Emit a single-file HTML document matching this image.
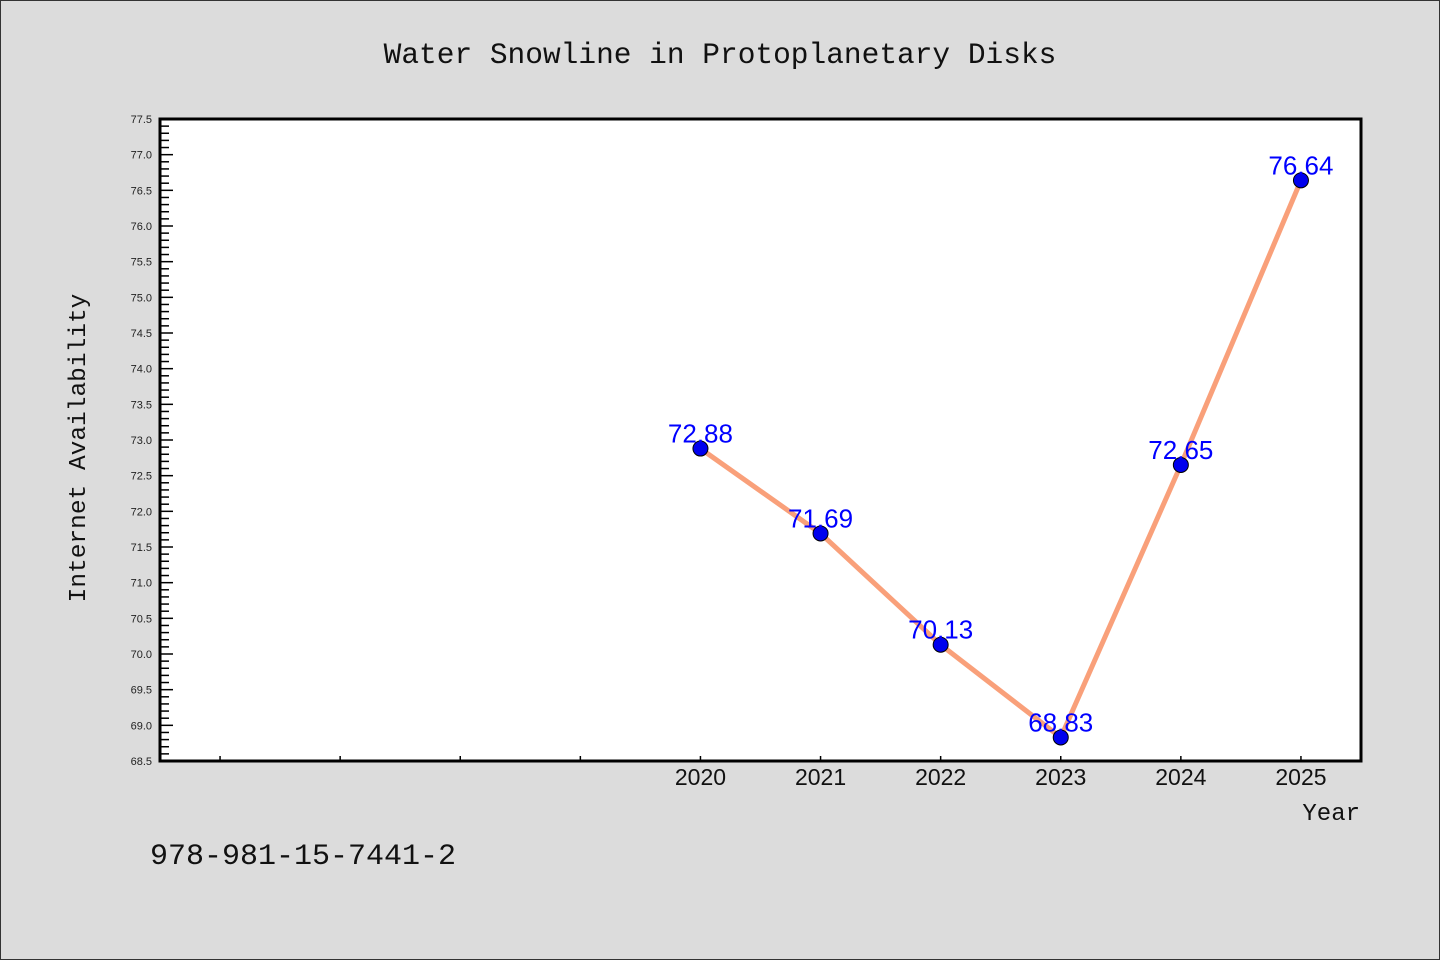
<!DOCTYPE html>
<html><head><meta charset="utf-8"><style>
body{margin:0;background:#dcdcdc}
svg{display:block}
</style></head><body>
<svg id="c" width="1440" height="960" xmlns="http://www.w3.org/2000/svg">
<rect x="0.5" y="0.5" width="1439" height="959" fill="#dcdcdc" stroke="#333"/>
<text x="720" y="63" text-anchor="middle" font-family="Liberation Mono, monospace" font-size="29.5" fill="#111">Water Snowline in Protoplanetary Disks</text>
<rect x="160" y="119" width="1201" height="642" fill="#fff" stroke="#000" stroke-width="3"/>
<g id="ticks"></g>
<g id="marks"></g>
<text transform="translate(85,448) rotate(-90)" text-anchor="middle" font-family="Liberation Mono, monospace" font-size="24.5" fill="#111">Internet Availability</text>
<text x="1360" y="820" text-anchor="end" font-family="Liberation Mono, monospace" font-size="24" fill="#111">Year</text>
<text x="150" y="864" font-family="Liberation Mono, monospace" font-size="30" fill="#111">978-981-15-7441-2</text>
</svg>
<script>
const years=[2020,2021,2022,2023,2024,2025];
const values=[72.88,71.69,70.13,68.83,72.65,76.64];
const labels=["72.88","71.69","70.13","68.83","72.65","76.64"];
const yTicks=["68.5","69.0","69.5","70.0","70.5","71.0","71.5","72.0","72.5","73.0","73.5","74.0","74.5","75.0","75.5","76.0","76.5","77.0","77.5"];
const xTickYears=[2016,2017,2018,2019,2020,2021,2022,2023,2024,2025];
const NS="http://www.w3.org/2000/svg";
const L=160,R=1361,T=119,B=761,x0=2015.5,x1=2025.5,y0=68.5,y1=77.5;
const xs=v=>L+(v-x0)/(x1-x0)*(R-L);
const ys=v=>B-(v-y0)/(y1-y0)*(B-T);
function mk(t,a,p){const e=document.createElementNS(NS,t);for(const k in a)e.setAttribute(k,a[k]);p.appendChild(e);return e;}
const tg=document.getElementById('ticks'),mg=document.getElementById('marks');
for(let i=0;i<=90;i++){const v=y0+i*0.1;const y=ys(v);const maj=i%5==0;
 const l=mk('line',{x1:L,x2:L+(maj?13:9),y1:y,y2:y,stroke:'#000','stroke-width':1.5},tg);
 }
yTicks.forEach(s=>{const t=mk('text',{x:152,y:ys(+s)+4,'text-anchor':'end','font-family':'Liberation Sans, sans-serif','font-size':11,fill:'#222'},tg);t.textContent=s;
 });
xTickYears.forEach(v=>{const l=mk('line',{x1:xs(v),x2:xs(v),y1:B,y2:B-5,stroke:'#000','stroke-width':1.5},tg);
 });
years.forEach(v=>{const t=mk('text',{x:xs(v),y:785,'text-anchor':'middle','font-family':'Liberation Sans, sans-serif','font-size':23,fill:'#111'},tg);t.textContent=v;
 });
const ln=mk('polyline',{points:years.map((v,i)=>xs(v)+','+ys(values[i])).join(' '),fill:'none',stroke:'#f9a07a','stroke-width':5},mg);

years.forEach((v,i)=>{const c=mk('circle',{cx:xs(v),cy:ys(values[i]),r:7.5,fill:'#0000ee',stroke:'#000','stroke-width':1},mg);
 
 const t=mk('text',{x:xs(v),y:ys(values[i])-6,'text-anchor':'middle','font-family':'Liberation Sans, sans-serif','font-size':26,fill:'#0000ff'},mg);t.textContent=labels[i];
 });
</script>
</body></html>
